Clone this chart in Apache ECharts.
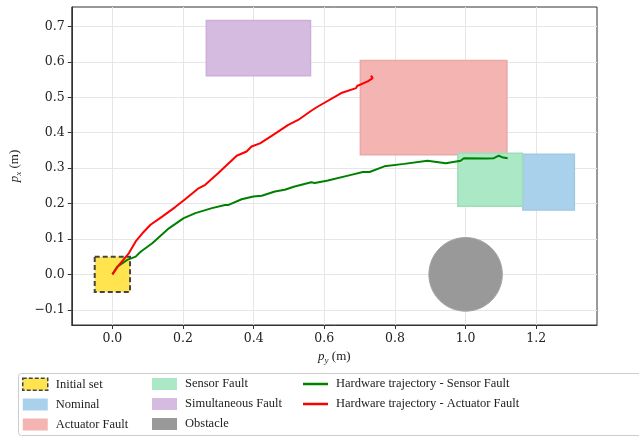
<!DOCTYPE html>
<html><head><meta charset="utf-8">
<script src="https://cdn.jsdelivr.net/npm/echarts@6/dist/echarts.min.js"></script>
<style>html,body{margin:0;padding:0;background:#fff}#c{width:639px;height:437px}</style>
</head><body><div id="c"></div>
<script>
// ---- data ----
const xTicks = [0.0, 0.2, 0.4, 0.6, 0.8, 1.0, 1.2];
const yTicks = [-0.1, 0.0, 0.1, 0.2, 0.3, 0.4, 0.5, 0.6, 0.7];
// regions: [py_min, px_min, py_max, px_max]
const initialSet = [-0.05, -0.05, 0.05, 0.05];
const nominalSet = [1.162, 0.182, 1.308, 0.339];
const actuatorSet = [0.702, 0.338, 1.117, 0.604];
const sensorSet = [0.978, 0.192, 1.161, 0.342];
const simultaneousSet = [0.266, 0.561, 0.561, 0.717];
// obstacle: [py, px, radius]
const obstacle = [1.0, 0.0, 0.104];
const actuatorPy = [0, 0.019, 0.047, 0.066, 0.085, 0.108, 0.141, 0.178, 0.206, 0.244, 0.263, 0.300, 0.352, 0.380, 0.394, 0.418, 0.451, 0.498, 0.526, 0.563, 0.582, 0.648, 0.690, 0.693, 0.723, 0.737, 0.732];
const actuatorPx = [0, 0.027, 0.060, 0.093, 0.116, 0.140, 0.163, 0.190, 0.212, 0.243, 0.253, 0.286, 0.335, 0.347, 0.361, 0.370, 0.391, 0.422, 0.436, 0.462, 0.474, 0.512, 0.526, 0.532, 0.545, 0.554, 0.561];
const sensorPy = [0, 0.014, 0.042, 0.066, 0.080, 0.113, 0.160, 0.202, 0.235, 0.282, 0.319, 0.329, 0.366, 0.399, 0.423, 0.460, 0.488, 0.516, 0.563, 0.573, 0.610, 0.676, 0.709, 0.728, 0.770, 0.826, 0.892, 0.897, 0.944, 0.986, 0.995, 1.061, 1.080, 1.094, 1.103, 1.119];
const sensorPx = [0, 0.022, 0.041, 0.050, 0.064, 0.088, 0.130, 0.159, 0.173, 0.187, 0.196, 0.196, 0.212, 0.220, 0.222, 0.234, 0.239, 0.248, 0.260, 0.258, 0.265, 0.281, 0.289, 0.289, 0.305, 0.312, 0.321, 0.318, 0.314, 0.321, 0.328, 0.327, 0.328, 0.335, 0.331, 0.328];

const FONT = 'DejaVu Serif';
const LFONT = 'Liberation Serif';
const zip = (a, b) => a.map((v, i) => [v, b[i]]);
const fmt = v => (Math.round(v * 10) / 10).toFixed(1).replace('-', '\u2212');

function rectSeries(name, box, fill, stroke, extra) {
  extra = extra || {};
  return {
    type: 'custom', name: name, z: extra.z || 2,
    itemStyle: { color: fill },
    encode: { x: [0, 2], y: [1, 3] },
    data: [box],
    renderItem: function (params, api) {
      const p0 = api.coord([api.value(0), api.value(3)]);
      const p1 = api.coord([api.value(2), api.value(1)]);
      return {
        type: 'rect',
        shape: { x: p0[0], y: p0[1], width: p1[0] - p0[0], height: p1[1] - p0[1] },
        style: { fill: fill, stroke: stroke, lineWidth: extra.lw || 1.5, lineDash: extra.dash || null }
      };
    }
  };
}
const nameRich = {
  p: { fontFamily: LFONT, fontStyle: 'italic', fontSize: 13, lineHeight: 18, color: '#222' },
  s: { fontFamily: LFONT, fontStyle: 'italic', fontSize: 9, lineHeight: 9, verticalAlign: 'bottom', color: '#222' },
  n: { fontFamily: LFONT, fontSize: 13, lineHeight: 18, color: '#222' }
};

const chart = echarts.init(document.getElementById('c'));
const legendText = { fontFamily: LFONT, fontSize: 12.5, color: '#222', padding: [0, 0, 0, 3] };
const legendBase = { orient: 'vertical', padding: 0, itemWidth: 25, itemHeight: 12, itemGap: 7, top: 377.5, textStyle: legendText, selectedMode: false };
const lineIcon = 'path://M0,0H25V2.5H0Z';
chart.setOption({
  animation: false,
  backgroundColor: '#fff',
  grid: { left: 69, top: 7, width: 528, height: 318, show: true, borderColor: '#333', borderWidth: 1, backgroundColor: 'transparent' },
  xAxis: {
    type: 'value', min: -0.115, max: 1.372,
    name: '{p|p}{s|y}{n| (m)}', nameLocation: 'middle', nameGap: 20,
    nameTextStyle: { rich: nameRich },
    axisLine: { show: true, onZero: false, lineStyle: { color: '#333', width: 1 } },
    axisTick: { show: true, length: 4, customValues: xTicks, lineStyle: { color: '#333' } },
    axisLabel: { customValues: xTicks, formatter: fmt, fontFamily: FONT, fontSize: 12.5, color: '#222', margin: 7 },
    splitLine: { show: true, lineStyle: { color: '#e6e6e6', width: 1 } }
  },
  yAxis: {
    type: 'value', min: -0.143, max: 0.755,
    name: '{p|p}{s|x}{n| (m)}', nameLocation: 'middle', nameGap: 46, nameRotate: 90,
    nameTextStyle: { rich: nameRich },
    axisLine: { show: true, onZero: false, lineStyle: { color: '#333', width: 1 } },
    axisTick: { show: true, length: 4, customValues: yTicks, lineStyle: { color: '#333' } },
    axisLabel: { customValues: yTicks, formatter: fmt, fontFamily: FONT, fontSize: 12.5, color: '#222', margin: 7 },
    splitLine: { show: true, lineStyle: { color: '#e6e6e6', width: 1 } }
  },
  graphic: [{ type: 'rect', z: 0, shape: { x: 18.5, y: 373.5, width: 640, height: 62, r: 3 }, style: { fill: '#fff', stroke: '#cccccc', lineWidth: 1 } }],
  legend: [
    Object.assign({}, legendBase, { left: 22, data: [
      { name: 'Initial set', icon: 'rect', itemStyle: { color: '#ffe34f', borderColor: '#444', borderWidth: 1.5, borderType: [4, 2] } },
      { name: 'Nominal', icon: 'rect', itemStyle: { color: '#a9d1ec' } },
      { name: 'Actuator Fault', icon: 'rect', itemStyle: { color: '#f4b5b2' } } ] }),
    Object.assign({}, legendBase, { left: 152, data: [
      { name: 'Sensor Fault', icon: 'rect', itemStyle: { color: '#abe8c5' } },
      { name: 'Simultaneous Fault', icon: 'rect', itemStyle: { color: '#d6bbe0' } },
      { name: 'Obstacle', icon: 'rect', itemStyle: { color: '#999999' } } ] }),
    Object.assign({}, legendBase, { left: 303, data: [
      { name: 'Hardware trajectory - Sensor Fault', icon: lineIcon, itemStyle: { color: '#008000' } },
      { name: 'Hardware trajectory - Actuator Fault', icon: lineIcon, itemStyle: { color: '#ff0000' } } ] })
  ],
  series: [
    rectSeries('Nominal', nominalSet, '#a9d1ec', '#a0c9e6'),
    rectSeries('Actuator Fault', actuatorSet, '#f4b5b2', '#e9aaa7'),
    rectSeries('Sensor Fault', sensorSet, '#abe8c5', '#a0ddb9'),
    rectSeries('Simultaneous Fault', simultaneousSet, '#d6bbe0', '#ccb0d8'),
    {
      type: 'custom', name: 'Obstacle', z: 2, itemStyle: { color: '#999999' },
      encode: { x: 0, y: 1 }, data: [obstacle],
      renderItem: function (params, api) {
        const c = api.coord([api.value(0), api.value(1)]);
        const s = api.size([api.value(2), api.value(2)]);
        return { type: 'ellipse', shape: { cx: c[0], cy: c[1], rx: s[0], ry: s[1] }, style: { fill: '#999999', stroke: '#a3a3a3', lineWidth: 1 } };
      }
    },
    rectSeries('Initial set', initialSet, '#ffe34f', '#444444', { dash: [5, 3], lw: 2, z: 3 }),
    { type: 'line', name: 'Hardware trajectory - Sensor Fault', z: 5, data: zip(sensorPy, sensorPx), showSymbol: false, symbol: 'none', color: '#008000', lineStyle: { color: '#008000', width: 2 } },
    { type: 'line', name: 'Hardware trajectory - Actuator Fault', z: 5, data: zip(actuatorPy, actuatorPx), showSymbol: false, symbol: 'none', color: '#ff0000', lineStyle: { color: '#ff0000', width: 2 } }
  ]
});
</script></body></html>
